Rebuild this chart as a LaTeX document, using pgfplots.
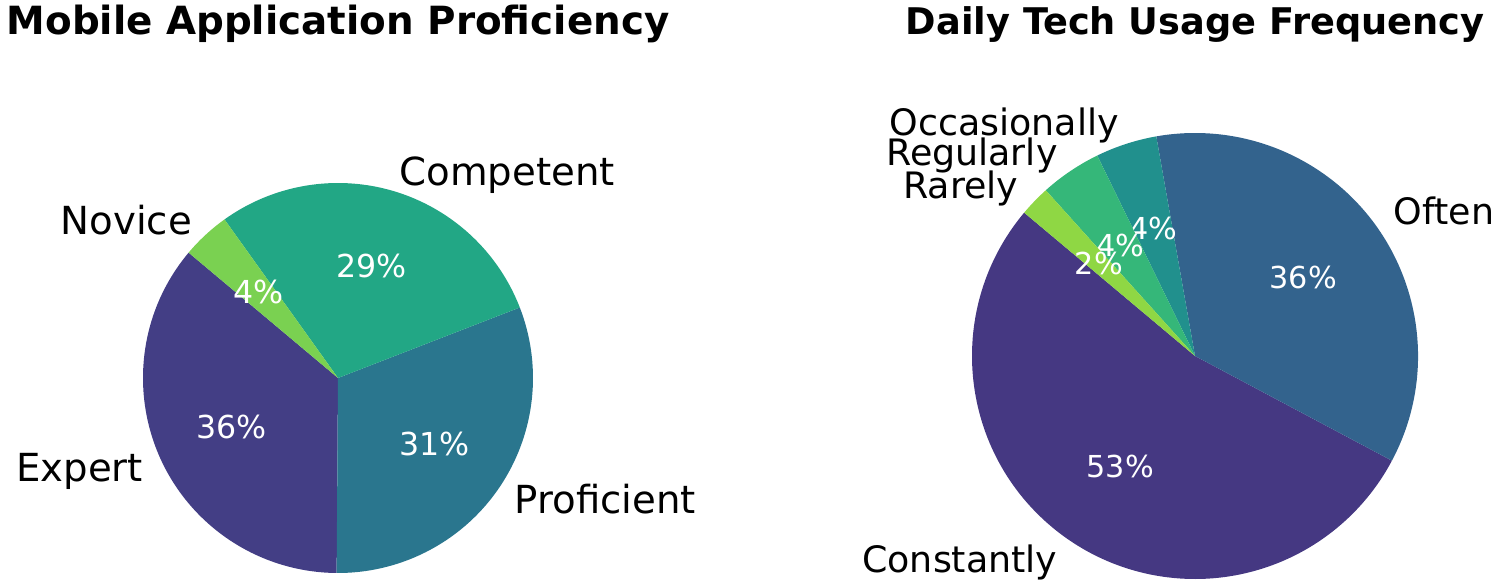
\documentclass[border=0pt]{standalone}
\usepackage{pgfplots}
\usepackage{pgfplotstable}
\pgfplotsset{compat=1.18}
\usepackage{fontspec}
\setmainfont{DejaVu Sans}

% viridis-like colours
\definecolor{vExpert}{HTML}{433E85}
\definecolor{vProf}{HTML}{2A768E}
\definecolor{vComp}{HTML}{22A785}
\definecolor{vNov}{HTML}{7AD151}
\definecolor{vConst}{HTML}{453882}
\definecolor{vOften}{HTML}{33638D}
\definecolor{vOcc}{HTML}{21908D}
\definecolor{vReg}{HTML}{35B779}
\definecolor{vRare}{HTML}{8FD744}

% left panel is set a little larger than the right one
\newcommand\labelfontA{\fontsize{22}{26}\selectfont}
\newcommand\pctfontA{\fontsize{18}{21}\selectfont}
\newcommand\labelfontB{\fontsize{20.7}{25}\selectfont}
\newcommand\pctfontB{\fontsize{17.2}{20}\selectfont}

\pgfplotstableread{
label value color
Expert 36 vExpert
Proficient 31 vProf
Competent 29 vComp
Novice 4 vNov
}\mobiletable

\pgfplotstableread{
label value color
Constantly 24 vConst
Often 16 vOften
Occasionally 2 vOcc
Regularly 2 vReg
Rarely 1 vRare
}\usagetable

% #1 table, #2 start angle, #3 radius (same as the axis unit),
% #4 label font, #5 percent font, #6 label baseline drop, #7 percent baseline drop
\newcommand\drawpie[7]{%
  \pgfplotstablegetrowsof{#1}%
  \pgfmathtruncatemacro\lastrow{\pgfplotsretval-1}%
  \def\pietotal{0}%
  \pgfplotsforeachungrouped \i in {0,...,\lastrow}{%
    \pgfplotstablegetelem{\i}{value}\of{#1}%
    \pgfmathsetmacro\pietotal{\pietotal+\pgfplotsretval}%
  }%
  \pgfmathsetmacro\piestart{#2}%
  \pgfplotsforeachungrouped \i in {0,...,\lastrow}{%
    \pgfplotstablegetelem{\i}{value}\of{#1}\let\pieval\pgfplotsretval
    \pgfplotstablegetelem{\i}{label}\of{#1}\let\pielabel\pgfplotsretval
    \pgfplotstablegetelem{\i}{color}\of{#1}\let\piecolor\pgfplotsretval
    \pgfmathsetmacro\pieend{\piestart+360*\pieval/\pietotal}%
    \pgfmathsetmacro\piemid{(\piestart+\pieend)/2}%
    \pgfmathtruncatemacro\piepct{round(100*\pieval/\pietotal)}%
    \pgfmathparse{cos(\piemid)>0}%
    \ifdim\pgfmathresult pt>0.5pt \def\pieanchor{base west}\else\def\pieanchor{base east}\fi
    \edef\piecmd{%
      \noexpand\fill[\piecolor] (0,0) -- ({cos(\piestart)},{sin(\piestart)})
        arc[start angle=\piestart, end angle=\pieend, radius=#3] -- cycle;
      \noexpand\node[text=white, font=\noexpand#5, inner sep=0pt,
        anchor=base, yshift=-#7]
        at ({0.6*cos(\piemid)},{0.6*sin(\piemid)}) {\piepct\noexpand\%};
      \noexpand\node[anchor=\pieanchor, font=\noexpand#4, inner sep=0pt,
        yshift=-#6]
        at ({1.1*cos(\piemid)},{1.1*sin(\piemid)}) {\pielabel};
    }\piecmd
    \let\piestart\pieend
  }%
}

\begin{document}
\begin{tikzpicture}
\useasboundingbox (0,0) rectangle (300mm,117.2mm);

\begin{axis}[
    at={(67.6mm,41.6mm)}, anchor=center,
    x=39mm, y=39mm,
    xmin=-1.2, xmax=1.2, ymin=-1.2, ymax=1.2,
    hide axis, clip=false
]
\drawpie{\mobiletable}{140}{39mm}{\labelfontA}{\pctfontA}{2.7mm}{2.3mm}
\end{axis}

\begin{axis}[
    at={(239mm,46mm)}, anchor=center,
    x=44.6mm, y=44.6mm,
    xmin=-1.2, xmax=1.2, ymin=-1.2, ymax=1.2,
    hide axis, clip=false
]
\drawpie{\usagetable}{140}{44.6mm}{\labelfontB}{\pctfontB}{2.55mm}{2.2mm}
\end{axis}

\node[anchor=base, font=\fontsize{22.1}{26}\selectfont\bfseries, inner sep=0pt]
  at (67.6mm,110.2mm) {Mobile Application Proficiency};
\node[anchor=base, font=\fontsize{20.9}{25}\selectfont\bfseries, inner sep=0pt]
  at (239mm,110.2mm) {Daily Tech Usage Frequency};
\end{tikzpicture}
\end{document}
